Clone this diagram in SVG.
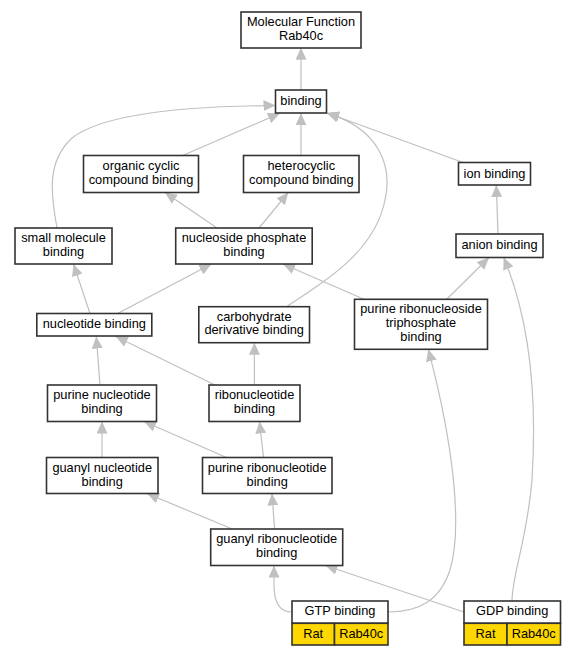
<svg xmlns="http://www.w3.org/2000/svg" width="576" height="656" viewBox="0 0 576 656">
<defs>
<style>
.n rect{fill:#fff;stroke:#333;stroke-width:1.6}
.n rect.g{fill:#ffd700}
.n text{font-family:"Liberation Sans",Arial,sans-serif;font-size:12.8px;fill:#000;text-anchor:middle}
.e path{fill:none;stroke:#c0c0c0;stroke-width:1.2;marker-end:url(#ah)}
</style>
<marker id="ah" markerUnits="userSpaceOnUse" markerWidth="12" markerHeight="11" refX="12" refY="5.5" orient="auto" viewBox="0 0 12 11">
<path d="M0,0 L12,5.5 L0,11 z" fill="#c0c0c0"/>
</marker>
</defs>
<rect width="576" height="656" fill="#fff"/>
<g class="e" id="edges">
<path d="M57,228 C51,195 46,162 72,138 C105,112 200,106 275.5,105.5"/>
<path d="M301,90 L301,47.7"/>
<path d="M182.7,155.5 L280,113.3"/>
<path d="M301,155.5 L301,113.3"/>
<path d="M463,162.5 L326.7,112.8"/>
<path d="M286.7,306.7 C330,278 375,250 385,200 C393,165 378,128 327.2,113.3"/>
<path d="M217,228 L165,192.5"/>
<path d="M259,228 L288.3,192.5"/>
<path d="M498,234 L496.3,185"/>
<path d="M90,313.5 L73.5,264"/>
<path d="M117.6,313.5 L211.4,264"/>
<path d="M364,299.3 L283,264"/>
<path d="M446.7,299.3 L489,257.5"/>
<path d="M512,601 C512,575 527,540 532,480 C537,400 530,320 503.7,257.5"/>
<path d="M215,385 L115.8,336.5"/>
<path d="M100,385 L96.3,336.5"/>
<path d="M254.4,385 L254.4,342.7"/>
<path d="M388,612 C420,612 440,600 450,570 C462,530 455,450 428.3,349.3"/>
<path d="M102,457.5 L102,421.5"/>
<path d="M226.5,457.5 L144,421.5"/>
<path d="M263.5,457.5 L259.5,421.5"/>
<path d="M232.4,529 L147,493.5"/>
<path d="M274.6,529 L272,493.5"/>
<path d="M292,612 C278,612 274,600 274,585 L274,565.5"/>
<path d="M464,612 L325.4,565.5"/>
</g>
<g class="n" id="mf"><rect x="241" y="12" width="120" height="36"/><text x="301" y="26">Molecular Function</text><text x="301" y="39.5">Rab40c</text></g>
<g class="n" id="binding"><rect x="275.5" y="90" width="51" height="23"/><text x="301" y="105">binding</text></g>
<g class="n" id="organic"><rect x="83.5" y="155.5" width="115" height="37"/><text x="141" y="169.5">organic cyclic</text><text x="141" y="183.5">compound binding</text></g>
<g class="n" id="hetero"><rect x="243.5" y="155.5" width="115.5" height="37"/><text x="301.3" y="169.5">heterocyclic</text><text x="301.3" y="183.5">compound binding</text></g>
<g class="n" id="ion"><rect x="458.5" y="162.5" width="72" height="22.5"/><text x="494.5" y="177.7">ion binding</text></g>
<g class="n" id="smallmol"><rect x="15" y="228" width="97" height="36"/><text x="63.5" y="241.7">small molecule</text><text x="63.5" y="255.5">binding</text></g>
<g class="n" id="nucphos"><rect x="175.7" y="228" width="136.5" height="36"/><text x="244" y="241.7">nucleoside phosphate</text><text x="244" y="255.5">binding</text></g>
<g class="n" id="anion"><rect x="456" y="234" width="87" height="23.5"/><text x="499.5" y="249.3">anion binding</text></g>
<g class="n" id="nucleotide"><rect x="36.8" y="313.5" width="115" height="22.5"/><text x="94.3" y="327.5">nucleotide binding</text></g>
<g class="n" id="carbo"><rect x="198.8" y="306.7" width="110.7" height="36"/><text x="254.2" y="320.7">carbohydrate</text><text x="254.2" y="334.3">derivative binding</text></g>
<g class="n" id="prtb"><rect x="354.5" y="299.3" width="133" height="50"/><text x="421" y="313">purine ribonucleoside</text><text x="421" y="326.8">triphosphate</text><text x="421" y="340.6">binding</text></g>
<g class="n" id="purnuc"><rect x="47.5" y="385" width="109" height="36.5"/><text x="102" y="399">purine nucleotide</text><text x="102" y="412.8">binding</text></g>
<g class="n" id="ribonuc"><rect x="209" y="385" width="91" height="36.5"/><text x="254.5" y="399">ribonucleotide</text><text x="254.5" y="412.8">binding</text></g>
<g class="n" id="guanuc"><rect x="46.5" y="457.5" width="111.5" height="36"/><text x="102.2" y="471.7">guanyl nucleotide</text><text x="102.2" y="485.5">binding</text></g>
<g class="n" id="purribo"><rect x="202.5" y="457.5" width="129.5" height="36"/><text x="267.2" y="471.7">purine ribonucleotide</text><text x="267.2" y="485.5">binding</text></g>
<g class="n" id="guanribo"><rect x="210.7" y="529" width="132" height="36.5"/><text x="276.7" y="543.3">guanyl ribonucleotide</text><text x="276.7" y="557">binding</text></g>
<g class="n" id="gtp"><rect x="292" y="601" width="96" height="22.3"/><rect class="g" x="292" y="623.3" width="42.5" height="21.7"/><rect class="g" x="334.5" y="623.3" width="53.5" height="21.7"/><text x="340" y="615">GTP binding</text><text x="313.2" y="638">Rat</text><text x="361.2" y="638">Rab40c</text></g>
<g class="n" id="gdp"><rect x="464" y="601" width="96.5" height="22.3"/><rect class="g" x="464" y="623.3" width="43" height="21.7"/><rect class="g" x="507" y="623.3" width="53.5" height="21.7"/><text x="512.2" y="615">GDP binding</text><text x="485.5" y="638">Rat</text><text x="533.7" y="638">Rab40c</text></g>
</svg>
